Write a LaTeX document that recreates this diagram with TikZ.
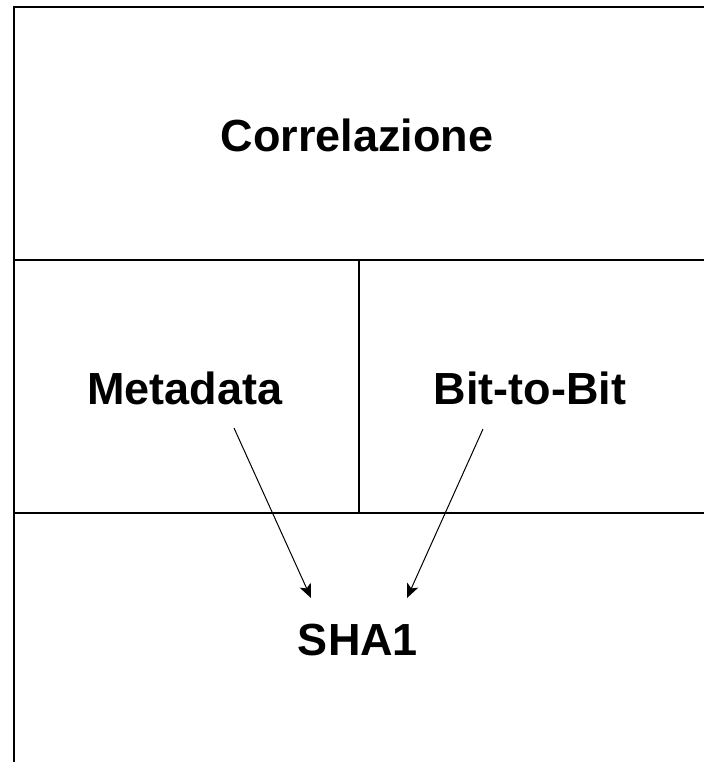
\documentclass[tikz,border=0pt]{standalone}
\usepackage{fontspec}
\setmainfont{Liberation Sans}
\usetikzlibrary{arrows.meta}
\begin{document}
\begin{tikzpicture}[x=1pt,y=-1pt,
  frame/.style={line width=2.2pt,line cap=rect},
  lbl/.style={font=\fontsize{45}{54}\selectfont\bfseries,inner sep=0pt},
  conn/.style={line width=1pt,-{Stealth[length=14pt,width=12pt,inset=3.5pt]}}]
\useasboundingbox (0,0) rectangle (716,762);
\draw[frame] (14,762) -- (14,7) -- (703,7);
\draw[frame] (14,260) -- (703,260);
\draw[frame] (14,513) -- (703,513);
\draw[frame] (359,260) -- (359,513);
\node[lbl] (corr) at (357,135) {Correlazione};
\node[lbl] (meta) at (185,388) {Metadata};
\node[lbl] (bit) at (530,388) {Bit-to-Bit};
\node[lbl] (sha) at (358,640) {SHA1};
\coordinate (m1) at (234,428);
\coordinate (m2) at (311,598);
\coordinate (b1) at (483,429);
\coordinate (b2) at (407,598);
\draw[conn] (m1) -- (m2);
\draw[conn] (b1) -- (b2);
\end{tikzpicture}
\end{document}
